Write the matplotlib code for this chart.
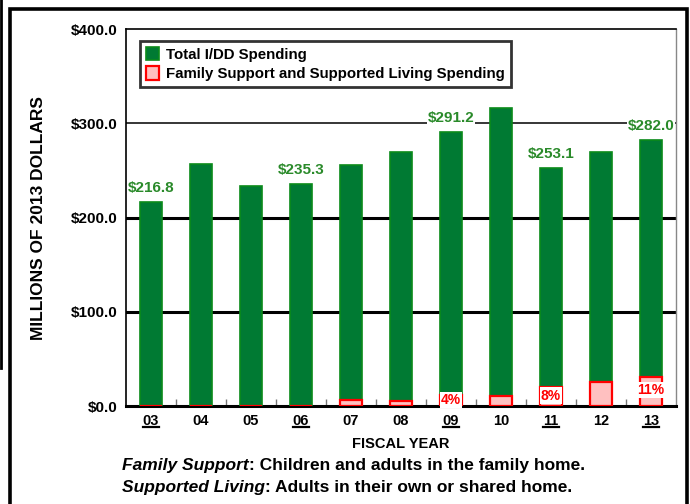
import matplotlib.pyplot as plt
from matplotlib.lines import Line2D
from matplotlib.patches import Rectangle
import matplotlib.transforms as mtransforms

plt.rcParams['font.family'] = ['Liberation Sans', 'DejaVu Sans']
plt.rcParams['font.weight'] = 'bold'

years = ['03', '04', '05', '06', '07', '08', '09', '10', '11', '12', '13']
total_spending = [216.8, 256.9, 233.9, 235.3, 255.8, 269.3, 291.2, 316.0, 253.1, 269.3, 282.0]
family_support = [0.0, 0.0, 0.5, 0.5, 6.7, 5.7, 11.6, 10.3, 20.2, 25.8, 31.0]
# which years get a dollar label / percent label
dollar_labels = {0: '$216.8', 3: '$235.3', 6: '$291.2', 8: '$253.1', 10: '$282.0'}
pct_labels = {6: '4%', 8: '8%', 10: '11%'}
underlined = [0, 3, 6, 8, 10]

green = '#007a33'
green_edge = '#0a8a1a'
label_green = '#2a8a2a'
pink = '#ffc0c0'
red = '#ff0000'

fig = plt.figure(figsize=(6.9, 5.04), dpi=100)
ax = fig.add_axes([0.1826, 0.1944, 0.797, 0.7475])

x = list(range(len(years)))
ax.bar(x, total_spending, width=0.44, color=green, edgecolor=green_edge,
       linewidth=1.2, zorder=3, label='Total I/DD Spending')
ax.bar(x, family_support, width=0.44, color=pink, edgecolor=red,
       linewidth=1.6, zorder=4, label='Family Support and Supported Living Spending')

ax.set_xlim(-0.5, len(years) - 0.5)
ax.set_ylim(0, 400)
ax.set_yticks([0, 100, 200, 300, 400])
ax.set_yticklabels(['$0.0', '$100.0', '$200.0', '$300.0', '$400.0'], fontsize=11)
ax.set_xticks(x)
ax.set_xticklabels(years, fontsize=10.5)
ax.tick_params(axis='both', length=0, pad=6)
ax.set_xticks([i + 0.5 for i in x[:-1]], minor=True)
ax.tick_params(axis='x', which='minor', direction='in', length=5, color='#777777', width=1)

for v, lw in [(100, 2.2), (200, 2.2), (300, 1.1)]:
    ax.axhline(v, color='black', linewidth=lw, zorder=1)

for side in ['left', 'top']:
    ax.spines[side].set_linewidth(1.2)
ax.spines['bottom'].set_linewidth(2.2)
ax.spines['right'].set_color('#888888')
ax.spines['right'].set_linewidth(1)

for i, txt in dollar_labels.items():
    ax.annotate(txt, (i, total_spending[i]), xytext=(0, 5), textcoords='offset points',
                ha='center', va='bottom', color=label_green, fontsize=11, fontweight='bold',
                zorder=6, bbox=dict(boxstyle='square,pad=0.05', fc='white', ec='none'))

for i, txt in pct_labels.items():
    ax.text(i, family_support[i] * 0.55, txt, ha='center', va='center', color=red,
            fontsize=10, fontweight='bold', zorder=6,
            bbox=dict(boxstyle='square,pad=0.08', fc='white', ec='none'))

# underline some tick labels
trans = mtransforms.blended_transform_factory(ax.transData, ax.transAxes)
for i in underlined:
    ax.plot([i - 0.16, i + 0.16], [-0.056, -0.056], color='black', linewidth=1.6,
            transform=trans, clip_on=False)

ax.set_xlabel('FISCAL YEAR', fontsize=10.5, fontweight='bold', labelpad=6)
ax.set_ylabel('MILLIONS OF 2013 DOLLARS', fontsize=12.5, fontweight='bold', labelpad=18)

leg = ax.legend(loc='upper left', bbox_to_anchor=(0.025, 0.97), fontsize=10.8,
                frameon=True, fancybox=False, handlelength=0.9, handleheight=1.05,
                handletextpad=0.45, borderpad=0.4, labelspacing=0.3, borderaxespad=0)
leg.get_frame().set_edgecolor('black')
leg.get_frame().set_linewidth(2)
leg.set_zorder(10)

t1 = fig.text(0.177, 0.068, 'Family Support', fontsize=12.5, fontweight='bold', fontstyle='italic')
t2 = fig.text(0.177, 0.024, 'Supported Living', fontsize=12.5, fontweight='bold', fontstyle='italic')
fig.canvas.draw()
r = fig.canvas.get_renderer()
for t, rest in [(t1, ': Children and adults in the family home.'),
                (t2, ': Adults in their own or shared home.')]:
    bb = t.get_window_extent(r)
    fig.text(bb.x1 / fig.bbox.width, t.get_position()[1], rest, fontsize=12.5, fontweight='bold')

# outer frame
fig.add_artist(Rectangle((0.014, -0.1), 0.982, 1.082, transform=fig.transFigure,
                         fill=False, edgecolor='black', linewidth=2.6))
fig.add_artist(Line2D([0.0015, 0.0015], [1.0, 0.27], transform=fig.transFigure,
                      color='black', linewidth=2))

fig.savefig('out.png', dpi=100)
